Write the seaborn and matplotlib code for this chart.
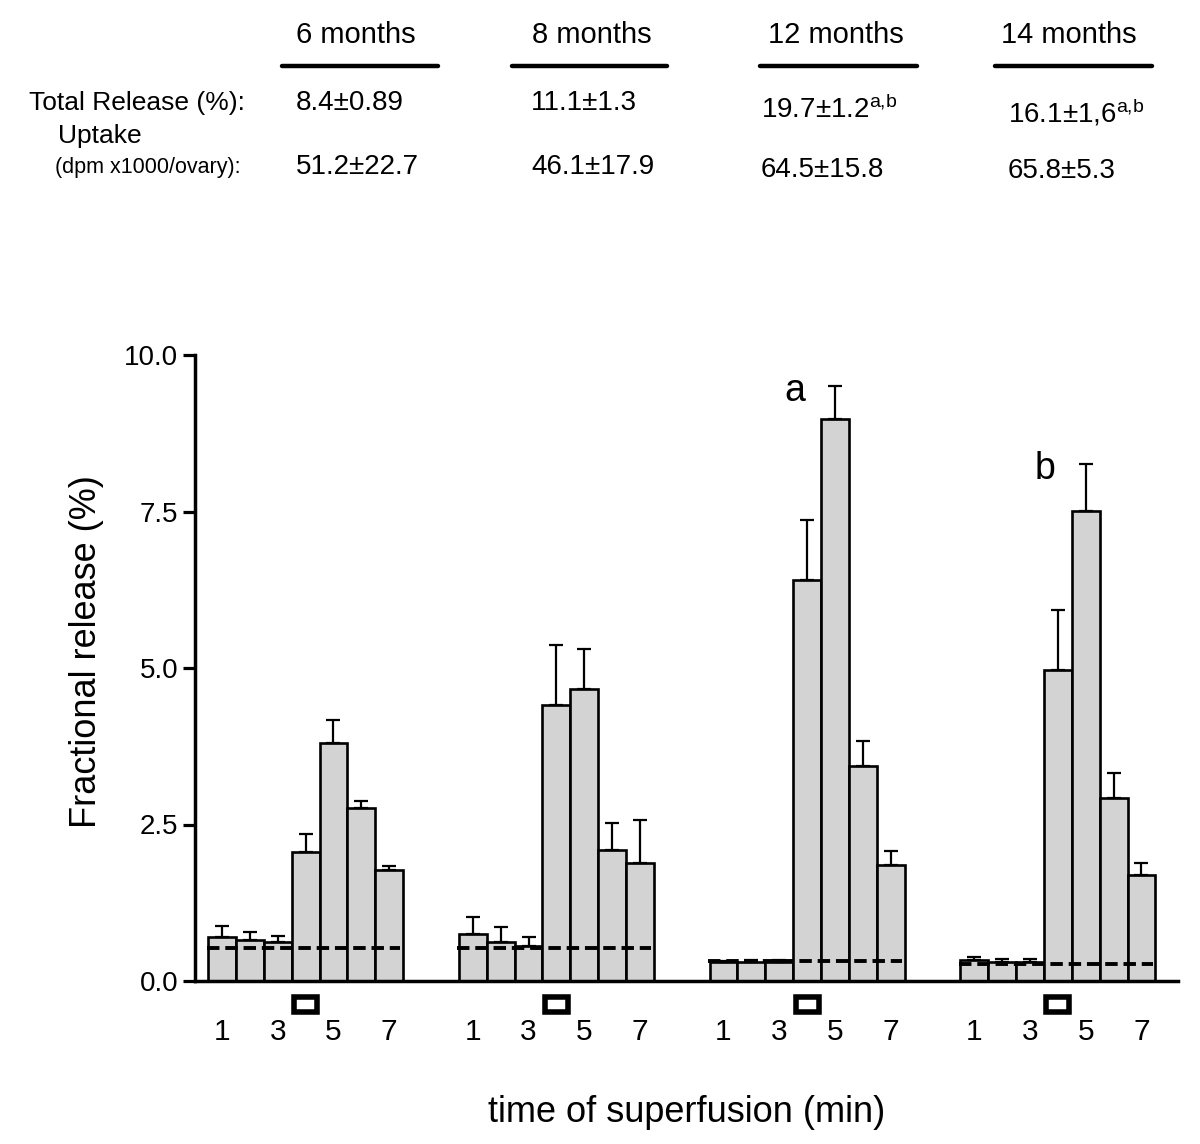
import numpy as np
import pandas as pd
import matplotlib
matplotlib.use("Agg")
import matplotlib.pyplot as plt
from matplotlib.lines import Line2D
import seaborn as sns

# ---------------- data ----------------
ages = ["6 months", "8 months", "12 months", "14 months"]
minutes = [1, 2, 3, 4, 5, 6, 7]
release_6m = [0.71, 0.655, 0.62, 2.06, 3.80, 2.77, 1.77]
sem_6m = [0.17, 0.135, 0.10, 0.29, 0.37, 0.11, 0.06]
release_8m = [0.745, 0.62, 0.565, 4.41, 4.66, 2.09, 1.89]
sem_8m = [0.285, 0.24, 0.145, 0.95, 0.64, 0.43, 0.68]
release_12m = [0.30, 0.31, 0.31, 6.40, 8.97, 3.43, 1.86]
sem_12m = [0.02, 0.02, 0.02, 0.97, 0.54, 0.41, 0.22]
release_14m = [0.33, 0.31, 0.31, 4.97, 7.51, 2.93, 1.70]
sem_14m = [0.05, 0.04, 0.04, 0.95, 0.75, 0.40, 0.18]
basal_release = [0.53, 0.53, 0.32, 0.27]
stimulus_minute = 4
tick_minutes = [1, 3, 5, 7]
letters = {"12 months": "a", "14 months": "b"}
total_release = ["8.4±0.89", "11.1±1.3", "19.7±1.2", "16.1±1,6"]
total_release_sup = ["", "", "a{,}b", "a{,}b"]
uptake = ["51.2±22.7", "46.1±17.9", "64.5±15.8", "65.8±5.3"]
yticks = [0.0, 2.5, 5.0, 7.5, 10.0]

releases = [release_6m, release_8m, release_12m, release_14m]
sems = [sem_6m, sem_8m, sem_12m, sem_14m]

# ---------------- style ----------------
sns.set_style("ticks")
plt.rcParams["font.family"] = ["Liberation Sans", "DejaVu Sans"]
plt.rcParams["mathtext.fontset"] = "custom"
plt.rcParams["mathtext.rm"] = "Liberation Sans"
plt.rcParams["mathtext.it"] = "Liberation Sans"
for key in ["text.color", "axes.labelcolor", "xtick.color", "ytick.color", "axes.edgecolor"]:
    plt.rcParams[key] = "black"

group_gap = 2
n = len(minutes)
rows = []
for g, age in enumerate(ages):
    for i, m in enumerate(minutes):
        rows.append({"age": age, "minute": m,
                     "pos": g * (n + group_gap) + i,
                     "release": releases[g][i], "sem": sems[g][i]})
df = pd.DataFrame(rows)

W, H = 1200, 1144
fig = plt.figure(figsize=(W / 100, H / 100), dpi=100)
ax = fig.add_axes([195 / W, 1 - 981 / H, (1178 - 195) / W, (981 - 355) / H])

sns.barplot(data=df, x="pos", y="release", native_scale=True, width=1.0,
            color="#d3d3d3", saturation=1, edgecolor="black", linewidth=1.9,
            errorbar=None, ax=ax, zorder=2)

ax.errorbar(df["pos"], df["release"], yerr=[np.zeros(len(df)), df["sem"]],
            fmt="none", ecolor="black", elinewidth=1.6, capsize=5, capthick=1.6,
            zorder=3)

for g, age in enumerate(ages):
    start = g * (n + group_gap)
    ax.hlines(basal_release[g], start - 0.55, start + n - 0.6, colors="black",
              linewidth=2.8, linestyles=(0, (3.2, 1.5)), zorder=4)
    # stimulus marker
    sp = start + minutes.index(stimulus_minute)
    ax.bar([sp], [-0.24], bottom=-0.248, width=0.83, color="white",
           edgecolor="black", linewidth=4.0, clip_on=False, zorder=5)
    if age in letters:
        k = minutes.index(5)
        sub = df[df["age"] == age]
        top = sub["release"].iloc[k] + sub["sem"].iloc[k]
        ax.text(start + k - 1.45, top - 0.08, letters[age], fontsize=27,
                ha="center", va="center")

tick_pos = [g * (n + group_gap) + minutes.index(m) for g in range(len(ages)) for m in tick_minutes]
ax.set_xticks(tick_pos)
ax.set_xticklabels([str(m) for _ in ages for m in tick_minutes], fontsize=21.5)
ax.tick_params(axis="x", length=0, pad=27)
ax.set_xlim(-0.97, 34.31)
ax.set_ylim(0, 10)
ax.set_yticks(yticks)
ax.set_yticklabels([f"{v:.1f}" for v in yticks], fontsize=20)
ax.tick_params(axis="y", length=9, width=2.3, pad=3, direction="out")
for s in ["top", "right"]:
    ax.spines[s].set_visible(False)
for s in ["left", "bottom"]:
    ax.spines[s].set_linewidth(2.5)
    ax.spines[s].set_color("black")

ax.set_xlabel("time of superfusion (min)", fontsize=26, va="center")
ax.xaxis.set_label_coords(0.5, (981 - 1112) / 626)
ax.set_ylabel("Fractional release (%)", fontsize=26, va="center")
ax.yaxis.set_label_coords((87 - 195) / 983, (981 - 652) / 626)

# ---------------- table on top ----------------
def fx(x):
    return x / W

def fy(y):
    return 1 - y / H

header_x = [356, 592, 836, 1069]
line_spans = [(282, 438), (512, 667), (760, 917), (995, 1152)]
val_x = [296, 531, 761, 1008]
tr_y = [103, 103, 110, 113]
up_y = [167, 167, 170, 171]
for j, age in enumerate(ages):
    fig.text(fx(header_x[j]), fy(35), age, fontsize=21, ha="center", va="center")
    fig.add_artist(Line2D([fx(line_spans[j][0]), fx(line_spans[j][1])], [fy(66), fy(66)],
                          color="black", linewidth=3.2, transform=fig.transFigure))
    txt = total_release[j]
    if total_release_sup[j]:
        txt = txt + r"$^{\mathrm{" + total_release_sup[j] + "}}$"
    fig.text(fx(val_x[j]), fy(tr_y[j]), txt, fontsize=20, ha="left", va="center")
    fig.text(fx(val_x[j]), fy(up_y[j]), uptake[j], fontsize=20, ha="left", va="center")

fig.text(fx(29), fy(103), "Total Release (%):", fontsize=19, ha="left", va="center")
fig.text(fx(58), fy(136), "Uptake", fontsize=19, ha="left", va="center")
fig.text(fx(55), fy(167), "(dpm x1000/ovary):", fontsize=15.5, ha="left", va="center")

fig.savefig("out.png", dpi=100, facecolor="white")
